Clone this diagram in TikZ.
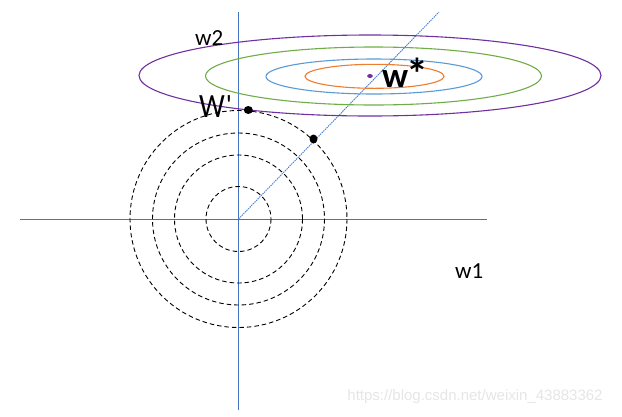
\documentclass[tikz,border=0pt]{standalone}
\usepackage{fontspec}
\setmainfont{Carlito}
\newfontfamily\wmfont{Liberation Sans}
\definecolor{axisblue}{HTML}{4472C4}
\definecolor{lineblue}{HTML}{4A7FD8}
\definecolor{epurple}{HTML}{7030A0}
\definecolor{egreen}{HTML}{70AD47}
\definecolor{eblue}{HTML}{5B9BD5}
\definecolor{eorange}{HTML}{ED7D31}
\definecolor{wmgray}{HTML}{E6E6E6}
\begin{document}
\begin{tikzpicture}[x=1pt,y=-1pt,
  axisline/.style={draw=axisblue, line width=0.85pt},
  contour/.style={line width=1.1pt},
  ring/.style={draw=black, dash pattern=on 4.5pt off 3pt, line width=0.9pt},
  ridge/.style={draw=lineblue, line width=0.9pt, dash pattern=on 1.5pt off 0.8pt},
  lbl/.style={inner sep=0pt},
  dotmark/.style={fill=black}]
\useasboundingbox[fill=white] (0,0) rectangle (622,416);
% coordinates
\coordinate (O) at (238.5,219);
\coordinate (ytop) at (238.5,12);
\coordinate (ybot) at (238.5,410);
\coordinate (xl) at (20,219);
\coordinate (xr) at (487,219);
\coordinate (ltop) at (439,12);
\coordinate (C) at (370,76);
% axes
\draw[axisline] (xl) -- (xr);
\draw[axisline] (ytop) -- (ybot);
% ridge line
\draw[ridge] (O) -- (ltop);
% dashed circles
\foreach \r in {32.5,64,86,108.5} \draw[ring] (O) circle [radius=\r];
% ellipses
\draw[contour, draw=epurple] (370,75.5) ellipse [x radius=231, y radius=40.5];
\draw[contour, draw=egreen] (373.5,76) ellipse [x radius=168, y radius=29];
\draw[contour, draw=eblue] (374,76.5) ellipse [x radius=108, y radius=17.5];
\draw[contour, draw=eorange] (374.5,76.3) ellipse [x radius=69.5, y radius=12];
% points
\fill[epurple] (C) ellipse [x radius=2.8, y radius=2];
\fill[dotmark] (248.3,110) ellipse [x radius=4.5, y radius=4];
\fill[dotmark] (313.5,139) ellipse [x radius=4, y radius=4.5];
% labels
\node[lbl, anchor=base west] (w2) at (195,45) {\fontsize{23}{26}\selectfont w2};
\node[lbl, anchor=base west] (w1) at (455,278) {\fontsize{23}{26}\selectfont w1};
\node[lbl, anchor=base west] (wp) at (199,117) {\fontsize{34}{38}\selectfont\scalebox{0.85}[1]{W}\kern1pt\raisebox{3pt}{\fontsize{28}{30}\selectfont\textquotesingle}};
\node[lbl, anchor=base west] (ws) at (382,87) {\fontsize{35}{38}\selectfont\bfseries w\kern-1.5pt\raisebox{-2pt}{\fontsize{44}{48}\selectfont *}};
\node[lbl, text=wmgray] (wm) at (475,397) {\wmfont\fontsize{15}{18}\selectfont https://blog.csdn.net/weixin\_43883362};
\end{tikzpicture}
\end{document}
